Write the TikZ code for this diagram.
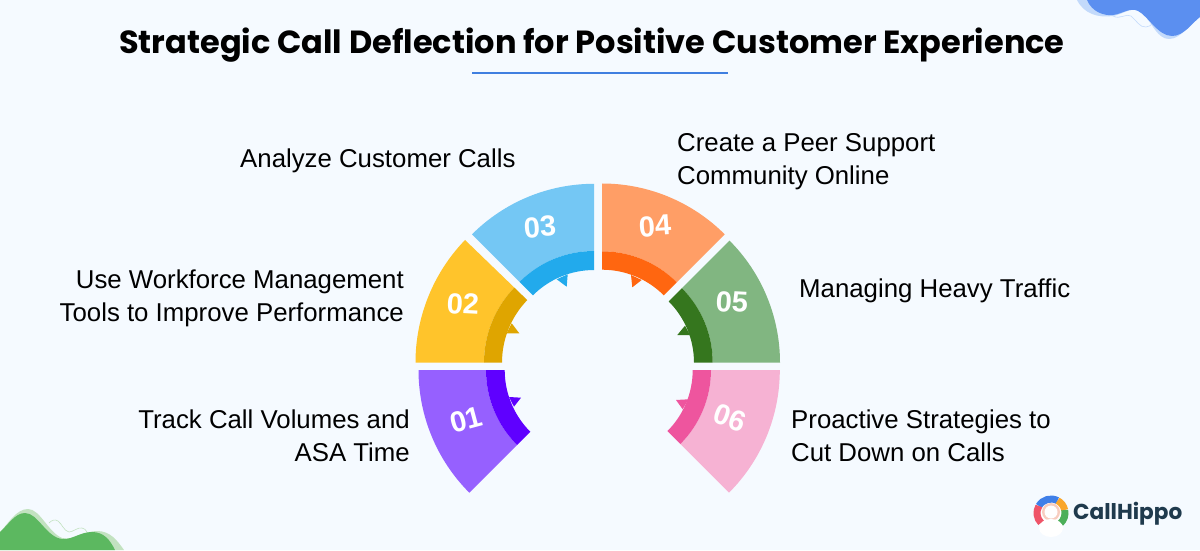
\documentclass[tikz,border=0pt]{standalone}
\usepackage{fontspec}
\setmainfont{Liberation Sans}
\newfontfamily\titlefont{Poppins}
\usepackage{xcolor}
\usetikzlibrary{positioning}
\definecolor{pagebg}{HTML}{F5FAFF}
\definecolor{ruleblue}{HTML}{3F7FE0}
\definecolor{blobblue}{HTML}{5B8FF0}
\definecolor{blobblueshade}{HTML}{C3DAFB}
\definecolor{blobgreen}{HTML}{5CB860}
\definecolor{blobgreenshade}{HTML}{C2E2C0}
\definecolor{purplelight}{HTML}{9660FF}
\definecolor{purpledark}{HTML}{5F00FF}
\definecolor{yellowlight}{HTML}{FFC42B}
\definecolor{yellowdark}{HTML}{DFA500}
\definecolor{bluelight}{HTML}{74C7F4}
\definecolor{bluedark}{HTML}{22AAEC}
\definecolor{orangelight}{HTML}{FF9E66}
\definecolor{orangedark}{HTML}{FF6610}
\definecolor{greenlight}{HTML}{81B681}
\definecolor{greendark}{HTML}{35761E}
\definecolor{pinklight}{HTML}{F6B2D3}
\definecolor{pinkdark}{HTML}{EE559E}
\definecolor{logoink}{HTML}{1F3A4D}
\definecolor{logoblue}{HTML}{3F7FE8}
\definecolor{logoorange}{HTML}{F9A62B}
\definecolor{logogreen}{HTML}{4CAF5A}
\definecolor{logored}{HTML}{EF5468}
\definecolor{logopeach}{HTML}{F8CDBF}
\tikzstyle{sidetext} = [text=black, font=\fontsize{25.8}{33}\selectfont, inner sep=0pt]
\tikzstyle{numtext} = [text=white, font=\fontsize{29}{29}\selectfont\bfseries, inner sep=0pt]
\tikzstyle{logoarc} = [line width=7pt]
% 圆环的一段: 圆心x,y 起止角 外径 内径 分界半径 浅色 深色
\newcommand{\ringseg}[9]{
  \begin{scope}[shift={(#1,#2)}]
    \fill[#8] (#3:#5) arc[start angle=#3, end angle=#4, radius=#5] -- (#4:#7) arc[start angle=#4, end angle=#3, radius=#7] -- cycle;
    \fill[#9] (#3:#7) arc[start angle=#3, end angle=#4, radius=#7] -- (#4:#6) arc[start angle=#4, end angle=#3, radius=#6] -- cycle;
  \end{scope}
}

\begin{document}
\begin{tikzpicture}[x=1pt, y=1pt]
  \useasboundingbox (0,0) rectangle (1200,550);
  \fill[pagebg] (0,0) rectangle (1200,550);

  % 右上角的蓝色波浪
  \fill[blobblueshade] (1077,550) .. controls (1084,536) and (1098,532) .. (1113,534) .. controls (1125,536) and (1133,546) .. (1144,536) .. controls (1152,526) and (1158,511) .. (1169,511) .. controls (1182,511) and (1190,528) .. (1200,533) -- (1200,550) -- cycle;
  \fill[blobblue] (1087,550) .. controls (1092,538) and (1104,534) .. (1113,535) .. controls (1122,536) and (1130,543) .. (1138,539) .. controls (1148,534) and (1158,514) .. (1172,514) .. controls (1184,514) and (1192,527) .. (1200,533) -- (1200,550) -- cycle;
  \draw[blobblueshade, line width=0.6pt] (1113,534) .. controls (1120,530) and (1126,537) .. (1131,534) .. controls (1136,530) and (1140,522) .. (1146,523) .. controls (1149,523) and (1151,525) .. (1152,526);

  % 左下角的绿色波浪
  \fill[blobgreenshade] (0,18) .. controls (8,26) and (16,41) .. (28,41) .. controls (40,41) and (48,18) .. (62,12) .. controls (74,9) and (84,19) .. (97,19) .. controls (110,19) and (117,10) .. (124,0) -- (0,0) -- cycle;
  \fill[blobgreen] (0,18) .. controls (8,25) and (15,37) .. (25,37) .. controls (38,37) and (46,13) .. (62,11) .. controls (72,10) and (80,18) .. (92,18) .. controls (104,18) and (110,10) .. (115,0) -- (0,0) -- cycle;
  \draw[blobgreenshade, line width=0.6pt] (49,27) .. controls (52,30) and (55,31) .. (58,29) .. controls (62,26) and (64,19) .. (69,18) .. controls (73,18) and (78,23) .. (82,22) .. controls (84,22) and (86,20) .. (87,18);

  % 标题和下划线
  \node[font=\titlefont\fontsize{32}{32}\selectfont\bfseries, inner sep=0pt] (title) at (592,505) {Strategic Call Deflection for Positive Customer Experience};
  \coordinate (ruleleft) at (472,477);
  \coordinate (ruleright) at (728,477);
  \draw[ruleblue, line width=1.6pt] (ruleleft) -- (ruleright);

  % 六段圆环
  \ringseg{592}{180}{180}{225}{173.5}{87.3}{106}{purplelight}{purpledark}
  \ringseg{592}{187.4}{180}{136}{176.5}{90}{108}{yellowlight}{yellowdark}
  \ringseg{594}{193.7}{90}{135}{172.5}{86.3}{105.3}{bluelight}{bluedark}
  \ringseg{602}{193}{90}{45}{173.5}{87.3}{105.7}{orangelight}{orangedark}
  \ringseg{607.4}{187.4}{0}{45}{172.6}{86.6}{105.3}{greenlight}{greendark}
  \ringseg{606.3}{180}{0}{-45}{173.5}{86.4}{104.7}{pinklight}{pinkdark}

  % 内圈的小尖角
  \foreach \col/\ax/\ay/\tx/\ty/\bx/\by in {
      purpledark/509/153/521/152.3/514/143.3,
      yellowdark/511.7/226.7/519.3/216.7/506.7/216.7,
      bluedark/556.7/270.7/566.7/263.3/567.7/275.7,
      orangedark/631/275/632.3/262.7/641.7/270,
      greendark/685/224.3/677.3/215/690/215,
      pinkdark/688.3/150.7/676/150/682.7/140.7}{
    \fill[\col] (\ax,\ay) -- (\tx,\ty) -- (\bx,\by) -- cycle;
  }

  % 段上的编号
  \node[numtext, rotate=15] (num1) at (466,130) {01};
  \node[numtext, rotate=-3] (num2) at (463,246) {02};
  \node[numtext, rotate=4] (num3) at (540,323) {03};
  \node[numtext, rotate=4] (num4) at (655,324) {04};
  \node[numtext, rotate=-3] (num5) at (732,248) {05};
  \node[numtext, rotate=-20] (num6) at (730,132) {06};

  % 两侧文字
  \node[sidetext, anchor=east, align=right] (track) at (410,114) {Track Call Volumes and\\ASA Time};
  \node[sidetext, anchor=east, align=right] (tools) at (404,252) {Use Workforce Management\\Tools to Improve Performance};
  \node[sidetext, anchor=west] (analyze) at (240,389) {Analyze Customer Calls};
  \node[sidetext, anchor=west, align=left] (peer) at (677,388) {Create a Peer Support\\Community Online};
  \node[sidetext, anchor=west] (traffic) at (799,259) {Managing Heavy Traffic};
  \node[sidetext, anchor=west, align=left] (proactive) at (791,114) {Proactive Strategies to\\Cut Down on Calls};

  % 右下角标志
  \coordinate (logoc) at (1051,37);
  \fill[white] (logoc) circle (15);
  \begin{scope}[shift={(logoc)}]
    \draw[logoarc, logoblue] (150:14) arc[start angle=150, end angle=62, radius=14];
    \draw[logoarc, logoorange] (62:14) arc[start angle=62, end angle=12, radius=14];
    \draw[logoarc, logogreen] (12:14) arc[start angle=12, end angle=-48, radius=14];
    \draw[logoarc, logored] (150:14) arc[start angle=150, end angle=225, radius=14];
    \fill[logopeach] (0,1) circle (9);
    \fill[white] (0,1) circle (6.5);
    \fill[white] (0,-15) ellipse (12 and 9);
  \end{scope}
  \node[font=\titlefont\fontsize{21.6}{21.6}\selectfont\bfseries, text=logoink, anchor=west, inner sep=0pt] (logotext) at (1073,36) {CallHippo};
\end{tikzpicture}
\end{document}
